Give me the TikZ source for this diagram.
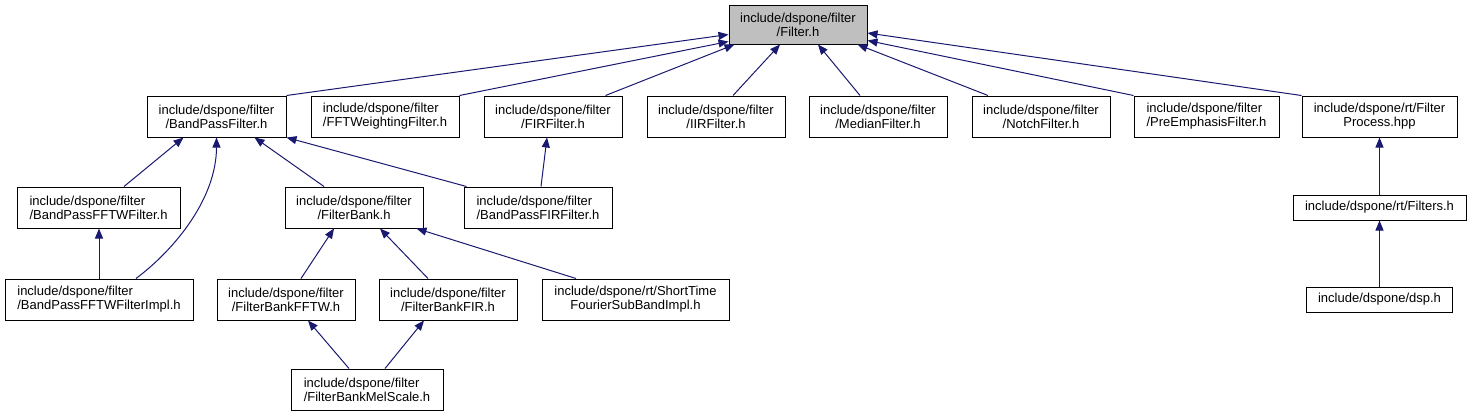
\documentclass[tikz,border=0pt]{standalone}
\usepackage{fontspec}
\setmainfont{Liberation Sans}
\usetikzlibrary{arrows.meta}
\definecolor{edgec}{HTML}{191970}
\definecolor{rootfill}{HTML}{BFBFBF}
\begin{document}
\begin{tikzpicture}[x=1pt,y=-1pt,
  box/.style={draw=black, fill=white, line width=1pt, inner sep=0pt, minimum height=41pt,
              font=\fontsize{13}{14}\selectfont, align=center},
  lbox/.style={box, align=left},
  conn/.style={draw=edgec, line width=1pt, -{Triangle[length=10pt,width=8pt]}}]
\useasboundingbox (0,0) rectangle (1471,416);
% root
\node[box, fill=rootfill, minimum width=138pt, minimum height=39pt] (filter) at (798,24.5) {include/dspone/filter\\/Filter.h};
% row 1
\node[box,  minimum width=139pt] (bpf)    at (216.5,116.5) {include/dspone/filter\\/BandPassFilter.h};
\node[lbox, minimum width=148pt] (fftw)   at (385,116.5)   {include/dspone/filter\\/FFTWeightingFilter.h};
\node[box,  minimum width=138pt] (fir)    at (553,116.5)   {include/dspone/filter\\/FIRFilter.h};
\node[box,  minimum width=138pt] (iir)    at (716,116.5)   {include/dspone/filter\\/IIRFilter.h};
\node[box,  minimum width=138pt] (median) at (878,116.5)   {include/dspone/filter\\/MedianFilter.h};
\node[box,  minimum width=138pt] (notch)  at (1041,116.5)  {include/dspone/filter\\/NotchFilter.h};
\node[lbox, minimum width=145pt] (pre)    at (1206.5,116.5){include/dspone/filter\\/PreEmphasisFilter.h};
\node[box,  minimum width=155pt] (proc)   at (1379.5,116.5){include/dspone/rt/Filter\\Process.hpp};
% row 2
\node[lbox, minimum width=163pt] (bpfftw) at (98.5,207.5)  {include/dspone/filter\\/BandPassFFTWFilter.h};
\node[box,  minimum width=138pt] (fbank)  at (354,207.5)   {include/dspone/filter\\/FilterBank.h};
\node[lbox, minimum width=148pt] (bpfir)  at (538,207.5)   {include/dspone/filter\\/BandPassFIRFilter.h};
\node[box,  minimum width=173pt, minimum height=25pt] (filters) at (1379.5,207.5) {include/dspone/rt/Filters.h};
% row 3
\node[lbox, minimum width=188pt] (impl)   at (99,299.5)    {include/dspone/filter\\/BandPassFFTWFilterImpl.h};
\node[box,  minimum width=138pt] (fbfftw) at (286,299.5)   {include/dspone/filter\\/FilterBankFFTW.h};
\node[box,  minimum width=138pt] (fbfir)  at (448,299.5)   {include/dspone/filter\\/FilterBankFIR.h};
\node[box,  minimum width=187pt] (stft)   at (635.5,299.5) {include/dspone/rt/ShortTime\\FourierSubBandImpl.h};
\node[box,  minimum width=146pt, minimum height=25pt] (dsp) at (1379.5,299.5) {include/dspone/dsp.h};
% row 4
\node[lbox, minimum width=152pt] (mel)    at (367,389.5)   {include/dspone/filter\\/FilterBankMelScale.h};
% edges to root
\draw[conn] (bpf.north east) -- ([yshift=-10pt]filter.west);
\draw[conn] (fftw.north east) -- ([yshift=3pt]filter.south west);
\draw[conn] ([xshift=-17pt]fir.north east) -- ([xshift=6pt]filter.south west);
\draw[conn] ([xshift=17pt]iir.north) -- ([xshift=-18pt]filter.south);
\draw[conn] ([xshift=-18pt]median.north) -- ([xshift=20pt]filter.south);
\draw[conn] ([xshift=-53pt]notch.north) -- ([xshift=-10pt]filter.south east);
\draw[conn] (pre.north west) -- ([yshift=4pt]filter.south east);
\draw[conn] (proc.north west) -- ([yshift=-8.5pt]filter.east);
% edges to BandPassFilter
\draw[conn] ([xshift=25.5pt]bpfftw.north) -- ([xshift=-33pt]bpf.south);
\draw[conn] ([xshift=37pt]impl.north) .. controls +(40,-30) and +(0,60) .. (bpf.south);
\draw[conn] ([xshift=-30pt]fbank.north) -- ([xshift=38pt]bpf.south);
\draw[conn] ([xshift=3pt]bpfir.north west) -- (bpf.south east);
% others
\draw[conn] ([xshift=3pt]bpfir.north) -- ([xshift=-6pt]fir.south);
\draw[conn] (impl.north) -- (impl.north |- bpfftw.south);
\draw[conn] ([xshift=15pt]fbfftw.north) -- ([xshift=-20pt]fbank.south);
\draw[conn] ([xshift=-20pt]fbfir.north) -- ([xshift=26pt]fbank.south);
\draw[conn] ([xshift=-59.5pt]stft.north) -- ([xshift=-7pt]fbank.south east);
\draw[conn] ([xshift=-18pt]mel.north) -- ([xshift=22pt]fbfftw.south);
\draw[conn] ([xshift=18pt]mel.north) -- ([xshift=-24pt]fbfir.south);
\draw[conn] (filters.north) -- (proc.south);
\draw[conn] (dsp.north) -- (filters.south);
\end{tikzpicture}
\end{document}
